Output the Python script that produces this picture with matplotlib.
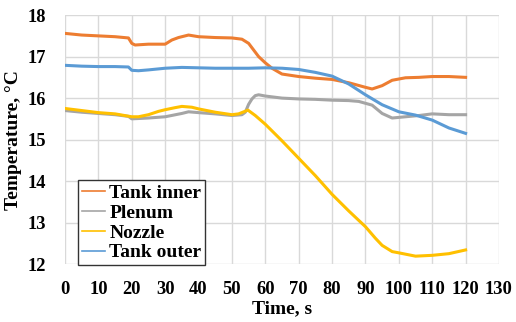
import matplotlib
matplotlib.use("Agg")
import matplotlib.pyplot as plt

# Temperature histories, s / degC
t_inner = [0, 5, 10, 15, 19, 20, 21, 25, 30, 32, 34, 37, 40, 45, 50, 53, 55, 58, 60, 62, 65, 70,
           75, 80, 85, 90, 92, 95, 98, 102, 106, 110, 115, 120]
tank_inner = [17.56, 17.52, 17.50, 17.48, 17.45, 17.32, 17.28, 17.30, 17.30, 17.40, 17.46, 17.52,
              17.48, 17.46, 17.45, 17.42, 17.32, 17.00, 16.85, 16.72, 16.58, 16.52, 16.48, 16.45,
              16.37, 16.26, 16.22, 16.30, 16.43, 16.49, 16.50, 16.52, 16.52, 16.50]

t_plenum = [0, 5, 10, 15, 19, 20, 25, 30, 35, 37, 40, 45, 50, 53, 54, 55, 56, 57, 58, 60, 65, 70,
            75, 80, 85, 88, 92, 95, 98, 102, 106, 110, 115, 120]
plenum = [15.70, 15.66, 15.63, 15.60, 15.56, 15.50, 15.52, 15.55, 15.63, 15.67, 15.65, 15.62,
          15.58, 15.60, 15.66, 15.85, 15.98, 16.06, 16.08, 16.05, 16.00, 15.98, 15.97, 15.95,
          15.94, 15.92, 15.83, 15.63, 15.52, 15.55, 15.58, 15.62, 15.60, 15.60]

t_nozzle = [0, 5, 10, 15, 20, 22, 25, 28, 30, 33, 35, 38, 40, 45, 50, 52, 54.8, 57, 60, 65, 70,
            75, 80, 85, 90, 93, 95, 98, 100, 105, 110, 115, 120]
nozzle = [15.75, 15.70, 15.65, 15.62, 15.55, 15.55, 15.60, 15.68, 15.72, 15.77, 15.80, 15.78,
          15.74, 15.66, 15.60, 15.62, 15.71, 15.58, 15.37, 14.97, 14.55, 14.13, 13.68, 13.28,
          12.90, 12.62, 12.45, 12.30, 12.27, 12.19, 12.21, 12.25, 12.34]

t_outer = [0, 5, 10, 15, 19, 20, 22, 25, 30, 35, 40, 45, 50, 55, 60, 65, 70, 75, 80, 85, 90, 95,
           100, 105, 110, 115, 120]
tank_outer = [16.79, 16.77, 16.76, 16.76, 16.75, 16.67, 16.66, 16.68, 16.72, 16.74, 16.73, 16.72,
              16.72, 16.72, 16.73, 16.72, 16.69, 16.62, 16.53, 16.34, 16.08, 15.84, 15.67, 15.59,
              15.47, 15.28, 15.15]

x_ticks = list(range(0, 131, 10))
y_ticks = list(range(12, 19))

plt.rcParams['font.family'] = ['Liberation Serif', 'DejaVu Serif']
plt.rcParams['font.weight'] = 'bold'

fig = plt.figure(figsize=(5.16, 3.22), dpi=100)
ax = fig.add_axes([0.126, 0.180, 0.841, 0.773])

series = [
    (t_inner, tank_inner, '#ED7D31', 'Tank inner'),
    (t_plenum, plenum, '#A5A5A5', 'Plenum'),
    (t_nozzle, nozzle, '#FFC000', 'Nozzle'),
    (t_outer, tank_outer, '#5B9BD5', 'Tank outer'),
]
for tt, vv, col, lab in series:
    ax.plot(tt, vv, color=col, lw=2.2, label=lab, solid_joinstyle='round')

ax.set_xlim(0, 130)
ax.set_ylim(12, 18)
ax.set_xticks(x_ticks)
ax.set_yticks(y_ticks)
ax.grid(True, color='#D9D9D9', lw=1)
ax.set_axisbelow(True)
for s in ax.spines.values():
    s.set_visible(False)
ax.tick_params(length=0, labelsize=13.3)
ax.tick_params(axis='x', pad=12)
ax.tick_params(axis='y', pad=14)
for lbl in ax.get_xticklabels() + ax.get_yticklabels():
    lbl.set_fontweight('bold')

ax.set_xlabel('Time, s', fontsize=14, fontweight='bold', labelpad=2)
ax.set_ylabel('Temperature, °C', fontsize=14, fontweight='bold', labelpad=4)

leg = ax.legend(loc='upper left', bbox_to_anchor=(0.03, 0.337), borderaxespad=0,
                fancybox=False, framealpha=1, edgecolor='#333333',
                prop={'family': 'Liberation Serif', 'weight': 'bold', 'size': 14},
                handlelength=1.2, handletextpad=0.2, labelspacing=0.12,
                borderpad=0.2)
for h in leg.get_lines():
    h.set_linewidth(1.2)
leg.get_frame().set_linewidth(1.0)

fig.savefig('out.png', dpi=100)
